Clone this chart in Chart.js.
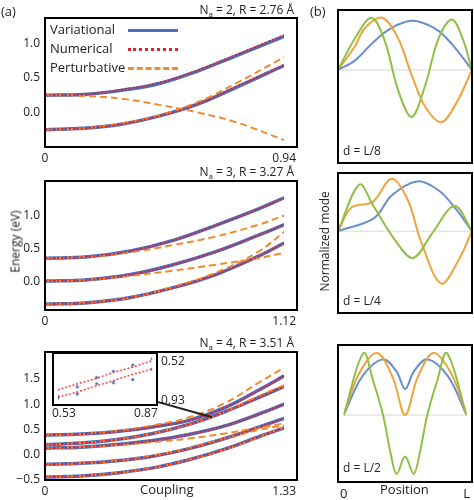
<!DOCTYPE html>
<html>
<head>
<meta charset="utf-8">
<script src="https://cdn.jsdelivr.net/npm/chart.js@4"></script>
<style>
  body { margin: 0; background: #fff; font-family: 'Open Sans', sans-serif; color: #222; }
  #fig { position: relative; width: 474px; height: 500px; overflow: hidden; }
  canvas { position: absolute; }
  .frm { position: absolute; border: 2.5px solid #000; box-sizing: border-box; pointer-events: none; z-index: 5; }
  .t { position: absolute; font-size: 12px; white-space: nowrap; z-index: 6; }
  .rot { transform: rotate(-90deg); transform-origin: center; }
  .leg { position: absolute; left: 50px; top: 20px; width: 132px; font-size: 13px; line-height: 19px; }
  .leg div { position: relative; height: 19px; }
  .leg span.ln { position: absolute; left: 78px; top: 9px; width: 50px; }
</style>
</head>
<body>
<div id="fig">
  <canvas id="c1"></canvas>
  <canvas id="c2"></canvas>
  <canvas id="c3"></canvas>
  <canvas id="m1"></canvas>
  <canvas id="m2"></canvas>
  <canvas id="m3"></canvas>
  <canvas id="cin" style="z-index:7"></canvas>

  <div class="t" style="left:1px;top:2px;font-size:13px">(a)</div>
  <div class="t" style="left:310px;top:2px;font-size:13px">(b)</div>
  <div class="t" style="right:180px;top:1px">N<sub style="font-size:8px">a</sub> = 2, R = 2.76 Å</div>
  <div class="t" style="right:180px;top:163px">N<sub style="font-size:8px">a</sub> = 3, R = 3.27 Å</div>
  <div class="t" style="right:180px;top:334px">N<sub style="font-size:8px">a</sub> = 4, R = 3.51 Å</div>
  <div class="t rot" style="left:-25px;top:233px;width:80px;text-align:center">Energy (eV)</div>
  <div class="t rot" style="left:274px;top:233px;width:100px;text-align:center">Normalized mode</div>
  <div class="t" style="left:140px;top:480px;font-size:13px">Coupling</div>
  <div class="t" style="left:380px;top:480px;font-size:13px">Position</div>
  <div class="t" style="left:343px;top:142px">d = L/8</div>
  <div class="t" style="left:343px;top:292px">d = L/4</div>
  <div class="t" style="left:343px;top:459px">d = L/2</div>
  <div class="t" style="left:52px;top:404px">0.53</div>
  <div class="t" style="left:134px;top:404px">0.87</div>
  <div class="t" style="left:161px;top:352px">0.52</div>
  <div class="t" style="left:161px;top:391px">0.93</div>

  <div class="leg">
    <div>Variational<span class="ln" style="border-top:3px solid #4a6fc0"></span></div>
    <div>Numerical<span class="ln" style="border-top:3px dotted #e8202a"></span></div>
    <div>Perturbative<span class="ln" style="border-top:3px dashed #f28a2e"></span></div>
  </div>
</div>
<script>
// ---------- data ----------
const n2X = [0, 0.15, 0.3, 0.45, 0.6, 0.75, 0.94];
const n2Var = [[0.25, 0.26, 0.32, 0.42, 0.6, 0.82, 1.1], [-0.25, -0.23, -0.17, -0.05, 0.12, 0.36, 0.68]];
const n2Num = [[0.25, 0.26, 0.33, 0.43, 0.61, 0.83, 1.12], [-0.25, -0.23, -0.17, -0.05, 0.12, 0.37, 0.69]];
const n2Pert = [[0.25, 0.24, 0.2, 0.11, 0.0, -0.14, -0.4], [-0.25, -0.23, -0.16, -0.04, 0.15, 0.42, 0.8]];

const n3X = [0, 0.2, 0.4, 0.6, 0.8, 1.0, 1.12];
const n3Var = [[0.35, 0.37, 0.46, 0.62, 0.85, 1.1, 1.27], [0, 0.02, 0.1, 0.25, 0.45, 0.7, 0.86], [-0.35, -0.33, -0.25, -0.1, 0.1, 0.38, 0.58]];
const n3Num = [[0.35, 0.37, 0.46, 0.62, 0.85, 1.1, 1.27], [0, 0.02, 0.1, 0.25, 0.45, 0.7, 0.86], [-0.35, -0.33, -0.25, -0.1, 0.1, 0.38, 0.58]];
const n3Pert = [[0.35, 0.37, 0.44, 0.55, 0.68, 0.86, 1.0], [0, 0.02, 0.08, 0.16, 0.25, 0.35, 0.43], [-0.35, -0.33, -0.25, -0.09, 0.13, 0.45, 0.75]];

const n4X = [0, 0.2, 0.4, 0.6, 0.8, 1.0, 1.2, 1.33];
const n4Var = [
  [0.39, 0.41, 0.46, 0.55, 0.68, 0.93, 1.3, 1.56],
  [0.2, 0.23, 0.3, 0.42, 0.6, 0.85, 1.15, 1.35],
  [0.13, 0.15, 0.2, 0.28, 0.4, 0.57, 0.82, 1.0],
  [-0.19, -0.17, -0.12, -0.03, 0.12, 0.32, 0.56, 0.72],
  [-0.44, -0.42, -0.36, -0.26, -0.1, 0.11, 0.37, 0.53]
];
const n4Num = n4Var;
const n4Pert = [
  [0.39, 0.41, 0.47, 0.58, 0.74, 1.02, 1.45, 1.72],
  [0.2, 0.23, 0.3, 0.42, 0.6, 0.85, 1.18, 1.37],
  [0.13, 0.15, 0.19, 0.25, 0.32, 0.42, 0.54, 0.62],
  [-0.19, -0.17, -0.12, -0.02, 0.13, 0.32, 0.5, 0.58],
  [-0.44, -0.42, -0.36, -0.26, -0.1, 0.1, 0.36, 0.55]
];

const insetX = [0.53, 0.6, 0.67, 0.73, 0.8, 0.87];
const insetUpper = [0.62, 0.68, 0.73, 0.79, 0.84, 0.9];
const insetLower = [0.55, 0.6, 0.66, 0.71, 0.77, 0.82];
const insetDots = [0.54, 0.65, 0.68, 0.8, 0.72, 0.92];
const insetDots2 = [0.56, 0.58, 0.74, 0.69, 0.86, 0.82];

// modes: [position, value]
const modeL8 = {
  blue: [[0, 0], [0.125, 0.18], [0.25, 0.5], [0.375, 0.77], [0.5, 0.92], [0.6, 0.93], [0.75, 0.75], [0.875, 0.42], [1, 0]],
  orange: [[0, 0], [0.125, 0.45], [0.2, 0.8], [0.33, 1.0], [0.45, 0.6], [0.55, -0.1], [0.65, -0.7], [0.77, -1.0], [0.88, -0.65], [1, 0]],
  green: [[0, 0], [0.125, 0.6], [0.25, 1.0], [0.35, 0.55], [0.45, -0.4], [0.55, -0.9], [0.65, -0.3], [0.75, 0.6], [0.85, 0.97], [0.93, 0.6], [1, 0]]
};
const modeL4 = {
  blue: [[0, 0], [0.27, 0.25], [0.4, 0.68], [0.59, 0.95], [0.75, 0.78], [0.88, 0.42], [1, 0]],
  orange: [[0, 0], [0.1, 0.45], [0.26, 0.56], [0.4, 1.0], [0.52, 0.6], [0.62, -0.2], [0.77, -1.0], [0.9, -0.55], [1, 0]],
  green: [[0, 0], [0.16, 0.89], [0.26, 0.5], [0.42, -0.15], [0.56, -0.51], [0.7, -0.05], [0.87, 0.48], [1, 0]]
};
const modeL2 = {
  blue: [[0, 0], [0.15, 0.62], [0.32, 0.9], [0.43, 0.7], [0.5, 0.42], [0.57, 0.7], [0.68, 0.9], [0.85, 0.62], [1, 0]],
  orange: [[0, 0], [0.12, 0.65], [0.27, 1.0], [0.4, 0.6], [0.5, 0], [0.6, 0.6], [0.73, 1.0], [0.88, 0.65], [1, 0]],
  green: [[0, 0], [0.16, 1.0], [0.24, 0.55], [0.32, 0], [0.38, -0.6], [0.43, -0.95], [0.5, -0.67], [0.57, -0.95], [0.62, -0.6], [0.68, 0], [0.76, 0.55], [0.84, 1.0], [1, 0]]
};

// ---------- helpers ----------
const font = { family: "'Open Sans', sans-serif", size: 12 };
const blue = '#4a6fc0', red = '#e8202a', orange = '#f28a2e';
const fig = document.getElementById('fig');

function place(id, left, top, w, h) {
  const el = document.getElementById(id);
  el.style.left = left + 'px'; el.style.top = top + 'px';
  el.width = w; el.height = h;
  el.style.width = w + 'px'; el.style.height = h + 'px';
  return el;
}

// black box around a plot area (same box the layout padding/axis sizes give)
function box(left, top, right, bottom, width) {
  const d = document.createElement('div');
  d.className = 'frm';
  d.style.borderWidth = width + 'px';
  d.style.left = (left - width / 2) + 'px';
  d.style.top = (top - width / 2) + 'px';
  d.style.width = (right - left + width) + 'px';
  d.style.height = (bottom - top + width) + 'px';
  fig.appendChild(d);
}

function pts(xs, ys) { return xs.map((x, i) => ({ x, y: ys[i] })); }

function energyChart(id, top, h, xs, vars, nums, perts, xMax, yMin, yMax, yTicks, extra) {
  const el = place(id, 0, top, 300, h);
  const ds = [];
  // lower "order" is painted on top
  vars.forEach(v => ds.push({ data: pts(xs, v), borderColor: blue, borderWidth: 3.5, order: 3 }));
  perts.forEach(v => ds.push({ data: pts(xs, v), borderColor: orange, borderWidth: 2, borderDash: [7, 4], order: 2 }));
  nums.forEach(v => ds.push({ data: pts(xs, v), borderColor: red, borderWidth: 2, borderDash: [2, 2], order: 1 }));
  const chart = new Chart(el, {
    type: 'scatter',
    data: { datasets: ds.map(d => Object.assign(d, { showLine: true, pointRadius: 0, tension: 0.4, fill: false })) },
    options: {
      animation: false, responsive: false, maintainAspectRatio: false, devicePixelRatio: 1,
      layout: { padding: { top: 2, right: 3, left: 0, bottom: 0 } },
      plugins: { legend: { display: false }, tooltip: { enabled: false } },
      scales: {
        x: {
          type: 'linear', min: 0, max: xMax,
          afterBuildTicks: s => { s.ticks = [{ value: 0 }, { value: xMax }]; },
          afterFit: s => { s.height = 20; },
          ticks: { font, color: '#222', maxRotation: 0, padding: 4, callback: v => (v === 0 ? '0' : String(xMax)) },
          grid: { display: false, drawTicks: false }, border: { display: false }
        },
        y: {
          min: yMin, max: yMax,
          afterBuildTicks: s => { s.ticks = yTicks.map(v => ({ value: v })); },
          afterFit: s => { s.width = 45; },
          ticks: { font, color: '#222', padding: 5, callback: v => (v < 0 ? '\u2212' : '') + Math.abs(v).toFixed(1) },
          grid: { display: false, drawTicks: false }, border: { display: false }
        }
      }
    },
    plugins: extra || []
  });
  box(45, top + 2, 297, top + h - 20, 2.5);
  return chart;
}

energyChart('c1', 16, 151, n2X, n2Var, n2Num, n2Pert, 0.94, -0.5, 1.22, [0, 0.5, 1.0]);
energyChart('c2', 179, 151, n3X, n3Var, n3Num, n3Pert, 1.12, -0.44, 1.37, [0, 0.5, 1.0]);

const arrow = {
  id: 'arrow',
  afterDraw(chart) {
    const c = chart.ctx;
    const x0 = chart.scales.x.getPixelForValue(0.93), y0 = chart.scales.y.getPixelForValue(0.74);
    const x1 = 133, y1 = 45;
    const ang = Math.atan2(y1 - y0, x1 - x0);
    c.save();
    c.setLineDash([]);
    c.strokeStyle = '#222'; c.fillStyle = '#222'; c.lineWidth = 2;
    c.beginPath(); c.moveTo(x0, y0); c.lineTo(x1 + 7 * Math.cos(ang), y1 + 7 * Math.sin(ang)); c.stroke();
    c.beginPath();
    c.moveTo(x1, y1);
    c.lineTo(x1 - 9 * Math.cos(ang - 0.4), y1 - 9 * Math.sin(ang - 0.4));
    c.lineTo(x1 - 9 * Math.cos(ang + 0.4), y1 - 9 * Math.sin(ang + 0.4));
    c.closePath(); c.fill();
    c.restore();
  }
};
energyChart('c3', 350, 150, n4X, n4Var, n4Num, n4Pert, 1.33, -0.5, 1.83, [-0.5, 0, 0.5, 1.0, 1.5], [arrow]);

// inset
const inEl = place('cin', 52, 352, 106, 54);
inEl.style.background = '#fff';
inEl.style.border = '2px solid #000';
inEl.style.boxSizing = 'border-box';
new Chart(inEl, {
  type: 'scatter',
  data: {
    datasets: [
      { data: pts(insetX, insetUpper), showLine: true, borderColor: red, borderWidth: 1.5, borderDash: [2, 2], pointRadius: 0 },
      { data: pts(insetX, insetLower), showLine: true, borderColor: red, borderWidth: 1.5, borderDash: [2, 2], pointRadius: 0 },
      { data: pts(insetX, insetDots), pointRadius: 1.6, backgroundColor: blue, borderWidth: 0 },
      { data: pts(insetX, insetDots2), pointRadius: 1.6, backgroundColor: blue, borderWidth: 0 }
    ]
  },
  options: {
    animation: false, responsive: false, maintainAspectRatio: false, devicePixelRatio: 1,
    layout: { padding: 3 },
    plugins: { legend: { display: false }, tooltip: { enabled: false } },
    scales: {
      x: { type: 'linear', min: 0.53, max: 0.87, display: false },
      y: { min: 0.52, max: 0.93, display: false }
    }
  }
});

// mode panels
function modeChart(id, top, h, mode, yMin, yMax, showX) {
  const el = place(id, 336, top, 138, h);
  const line = (d, col) => ({ data: d.map(p => ({ x: p[0], y: p[1] })), borderColor: col, borderWidth: 2, showLine: true, pointRadius: 0, tension: 0.35 });
  const chart = new Chart(el, {
    type: 'scatter',
    data: {
      datasets: [
        line(mode.green, '#8fc046'),
        line(mode.orange, '#eea43a'),
        line(mode.blue, '#6a8fcb'),
        { data: [{ x: 0, y: 0 }, { x: 1, y: 0 }], borderColor: '#d8d8d8', borderWidth: 1, showLine: true, pointRadius: 0 }
      ]
    },
    options: {
      animation: false, responsive: false, maintainAspectRatio: false, devicePixelRatio: 1,
      layout: { padding: { top: 2, right: 2, left: 2, bottom: showX ? 0 : 2 } },
      plugins: { legend: { display: false }, tooltip: { enabled: false } },
      scales: {
        x: {
          type: 'linear', min: 0, max: 1, display: showX,
          afterBuildTicks: s => { s.ticks = [{ value: 0 }, { value: 1 }]; },
          afterFit: s => { s.height = 20; },
          ticks: { font: { family: font.family, size: 13 }, color: '#222', maxRotation: 0, padding: 4, callback: v => (v === 0 ? '0' : 'L') },
          grid: { display: false, drawTicks: false }, border: { display: false }
        },
        y: { min: yMin, max: yMax, display: false }
      }
    }
  });
  box(338, top + 2, 472, top + h - (showX ? 20 : 2), 2.5);
  return chart;
}
modeChart('m1', 8, 157, modeL8, -1.4, 1.15, false);
modeChart('m2', 171, 144, modeL4, -1.18, 1.11, false);
modeChart('m3', 343, 159, modeL2, -1.08, 1.13, true);
</script>
</body>
</html>
